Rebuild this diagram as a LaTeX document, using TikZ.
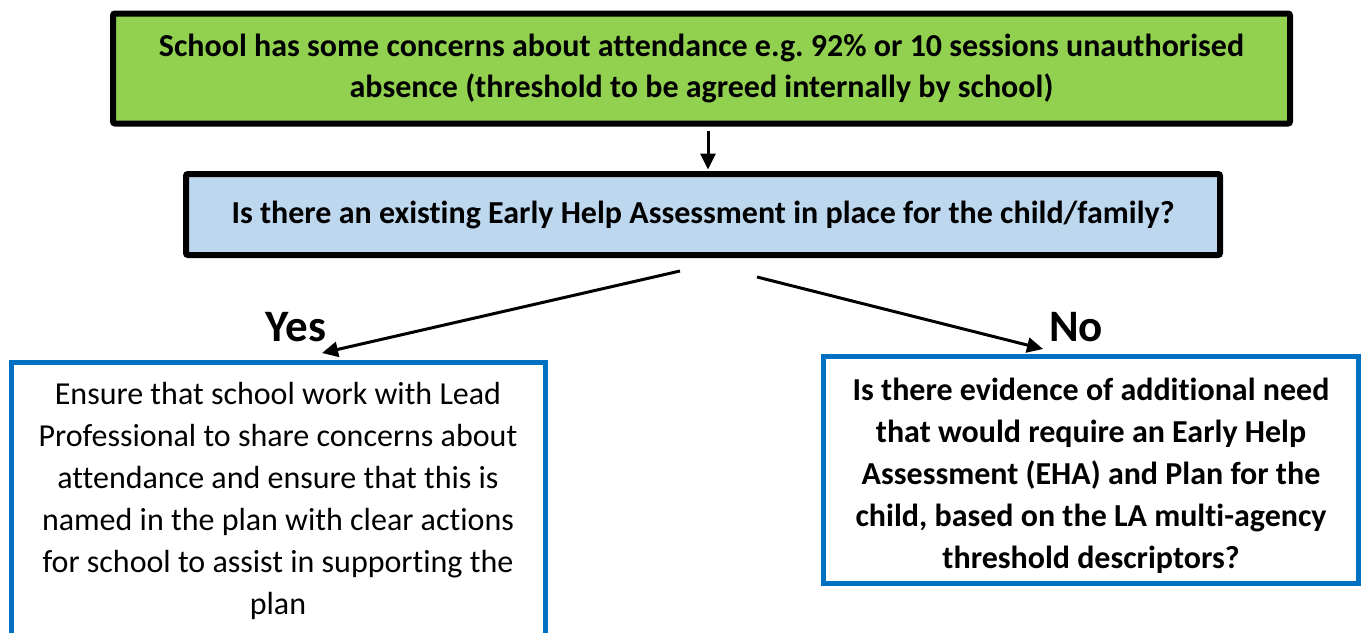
\documentclass[tikz,border=0pt]{standalone}
\usepackage{fontspec}
\setmainfont[Ligatures={NoCommon}]{Carlito}
\usetikzlibrary{arrows.meta}
\definecolor{topgreen}{HTML}{92D050}
\definecolor{qblue}{HTML}{BDD7EE}
\definecolor{bordblue}{HTML}{0070C0}
\frenchspacing
\begin{document}
\begin{tikzpicture}[x=1pt,y=-1pt,
  blackbox/.style={draw=black, line width=6pt, rounded corners=2pt, align=center, inner sep=0pt},
  bluebox/.style={draw=bordblue, line width=5pt, align=center, inner sep=0pt},
  arr/.style={line width=3pt, -{Triangle[length=16pt,width=15pt]}},
  ynlabel/.style={font=\bfseries\fontsize{45}{45}\selectfont, inner sep=0pt}
]
\useasboundingbox (0,0) rectangle (1362,632);
\begin{scope}
\clip (0,0) rectangle (1362,632);
\node[blackbox, fill=topgreen, minimum width=1177pt, minimum height=110pt,
      font=\bfseries\fontsize{32}{41.5}\selectfont] (top) at (701.5,68.5)
  {School has some concerns about attendance e.g. 92\% or 10 sessions unauthorised\\absence (threshold to be agreed internally by school)};
\node[blackbox, fill=qblue, minimum width=1034pt, minimum height=81pt,
      font=\bfseries\fontsize{32}{36}\selectfont] (q) at (703,214.5)
  {Is there an existing Early Help Assessment in place for the child/family?};
\node[bluebox, minimum width=534pt, minimum height=278pt,
      font=\fontsize{32}{42}\selectfont] (yesbox) at (278,501)
  {Ensure that school work with Lead\\Professional to share concerns about\\attendance and ensure that this is\\named in the plan with clear actions\\for school to assist in supporting the\\plan};
\node[align=center, inner sep=0pt, font=\bfseries\fontsize{32}{42}\selectfont] (notext) at (1091,476)
  {Is there evidence of additional need\\that would require an Early Help\\Assessment (EHA) and Plan for the\\child, based on the LA multi-agency\\threshold descriptors?};
\node[bluebox, minimum width=535pt, minimum height=227pt] (nobox) at (1091,470) {};
\node[ynlabel] (yes) at (296,327.5) {Yes};
\node[ynlabel] (no) at (1076,327.5) {No};
\coordinate (ystart) at (680,271);
\coordinate (yend) at (322,353);
\coordinate (nstart) at (757,277);
\coordinate (nend) at (1043,349);
\draw[arr] ([xshift=6.5pt,yshift=-4pt]top.south) -- ([xshift=5pt,yshift=1.5pt]q.north);
\draw[arr] (ystart) -- (yend);
\draw[arr] (nstart) -- (nend);
\end{scope}
\end{tikzpicture}
\end{document}
